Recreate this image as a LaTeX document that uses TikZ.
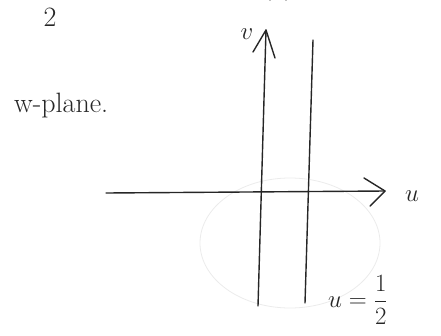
\documentclass[tikz,border=0pt]{standalone}
\usetikzlibrary{arrows.meta}
\begin{document}
\begin{tikzpicture}[x=1pt,y=-1pt,
  ink/.style={draw=black!85, line width=1.4pt, line cap=round, line join=round},
  lbl/.style={text=black!85, font=\fontsize{28}{30}\selectfont, inner sep=0pt},
  faint/.style={draw=black!8, line width=0.8pt}]
\useasboundingbox (0,0) rectangle (441,335);
% faint bleed-through circle
\draw[faint] (290,243) ellipse (90 and 65);
% axes
\coordinate (vb) at (258,306);
\coordinate (vt) at (266,30);
\coordinate (hl) at (106,193);
\coordinate (hr) at (385,191);
\draw[ink] (vb) -- (vt);
\draw[ink] (253,52) -- (vt) -- (275,58);
\draw[ink] (hl) -- (hr);
\draw[ink] (364,178) -- (hr) -- (370,206);
% line u = 1/2
\coordinate (lt) at (313,40);
\coordinate (lb) at (305,303);
\draw[ink] (lt) -- (lb);
% labels
\node[lbl] (vlab) at (247,34) {$v$};
\node[lbl, anchor=west] (ulab) at (405,196) {$u$};
\node[lbl, anchor=west] (plane) at (14,106) {w-plane.};
\node[lbl, anchor=west] (eq) at (328,300) {$u=\displaystyle\frac{1}{2}$};
\node[lbl] (two) at (50,17) {2};
\draw[ink] (270,0) arc (180:360:8 and 9);
\end{tikzpicture}
\end{document}
